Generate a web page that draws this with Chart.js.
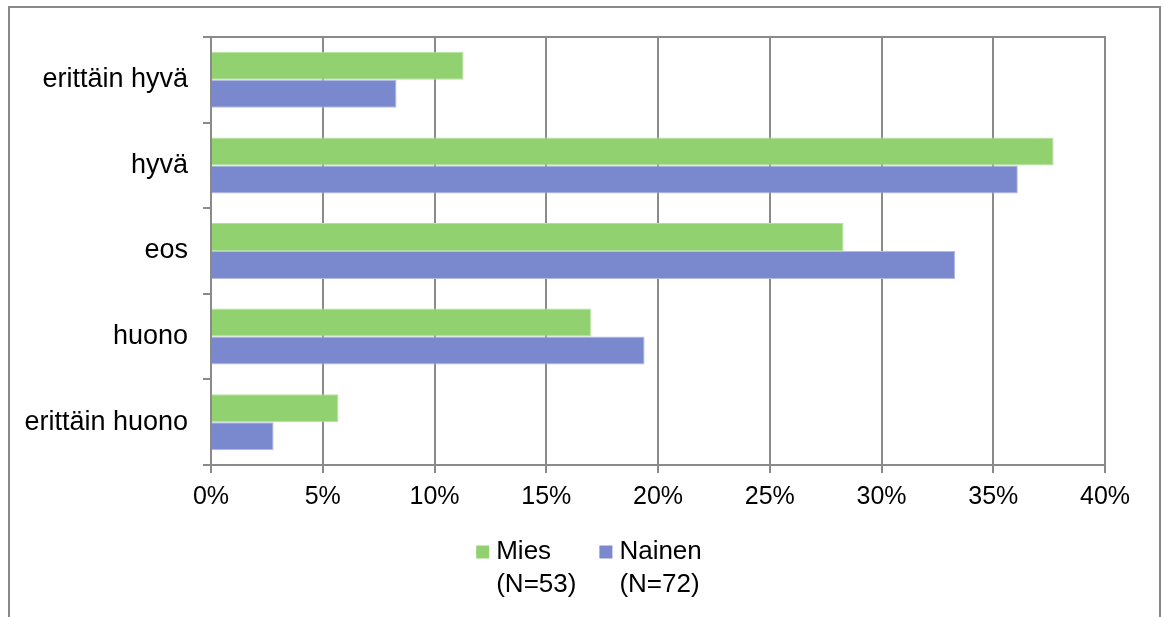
<!DOCTYPE html>
<html>
<head>
<meta charset="utf-8">
<script src="https://cdn.jsdelivr.net/npm/chart.js@4"></script>
<style>
  html, body { margin: 0; padding: 0; background: #fff; overflow: hidden; }
  #frame { position: absolute; left: 8px; top: 6px; width: 1153px; height: 640px; border: 2px solid #888; box-sizing: border-box; }
  #chart { position: absolute; left: 0; top: 0; }
</style>
</head>
<body>
<div id="frame"></div>
<canvas id="chart" width="1165" height="617"></canvas>
<script>
// answers, top to bottom
const categories = ['erittäin hyvä', 'hyvä', 'eos', 'huono', 'erittäin huono'];
// share of respondents, %
const miesValues = [11.3, 37.7, 28.3, 17.0, 5.7];
const nainenValues = [8.3, 36.1, 33.3, 19.4, 2.8];
const seriesLabels = [['Mies', '(N=53)'], ['Nainen', '(N=72)']];
const xTicks = [0, 5, 10, 15, 20, 25, 30, 35, 40];

const GREEN = '#92d16f';
const BLUE = '#7a88cd';
const LINE = '#8a8a8a';
const FAMILY = '"Liberation Sans", Arial, sans-serif';
const X_FONT = { family: FAMILY, size: 25 };
const Y_FONT = { family: FAMILY, size: 27 };
const LEGEND_SIZE = 26;

// box around the plot area (top and right sides come from here)
const plotBorder = {
  id: 'plotBorder',
  afterDatasetsDraw(chart) {
    const { ctx, chartArea: a } = chart;
    ctx.save();
    ctx.strokeStyle = LINE;
    ctx.lineWidth = 2;
    ctx.strokeRect(a.left, a.top, a.right - a.left, a.bottom - a.top);
    ctx.restore();
  }
};

// legend with two-line labels, box next to the first line
const twoLineLegend = {
  id: 'twoLineLegend',
  afterDraw(chart) {
    const ctx = chart.ctx;
    ctx.save();
    ctx.font = `${LEGEND_SIZE}px ${FAMILY}`;
    ctx.textBaseline = 'middle';
    ctx.textAlign = 'left';
    const box = 13, gap = 7, spacing = 23, lineH = 33;
    const items = chart.data.datasets.map(ds => ({
      ds, w: Math.max(...ds.label.map(l => ctx.measureText(l).width))
    }));
    const total = items.reduce((s, it) => s + box + gap + it.w, 0) + spacing * (items.length - 1);
    let x = (chart.width + 13 - total) / 2;
    const y = chart.chartArea.bottom + 87;
    items.forEach(it => {
      ctx.fillStyle = it.ds.backgroundColor;
      ctx.fillRect(x, y - box / 2, box, box);
      ctx.fillStyle = '#000';
      it.ds.label.forEach((l, i) => ctx.fillText(l, x + box + gap, y + i * lineH));
      x += box + gap + it.w + spacing;
    });
    ctx.restore();
  }
};

new Chart(document.getElementById('chart'), {
  type: 'bar',
  data: {
    labels: categories,
    datasets: [
      { label: seriesLabels[0], data: miesValues, backgroundColor: GREEN, borderColor: '#b6e0a0', borderWidth: 1 },
      { label: seriesLabels[1], data: nainenValues, backgroundColor: BLUE, borderColor: '#b3bbe6', borderWidth: 1 }
    ]
  },
  options: {
    indexAxis: 'y',
    responsive: false,
    animation: false,
    layout: { padding: { top: 37, right: 60, bottom: 92, left: 0 } },
    datasets: { bar: { categoryPercentage: 0.654, barPercentage: 1.0 } },
    plugins: {
      legend: { display: false },
      tooltip: { enabled: false }
    },
    scales: {
      x: {
        min: xTicks[0], max: xTicks[xTicks.length - 1],
        afterBuildTicks: s => { s.ticks = xTicks.map(v => ({ value: v })); },
        afterFit: s => { s.height = 60; },
        ticks: { color: '#000', font: X_FONT, padding: 9, callback: v => v + '%' },
        grid: { color: LINE, lineWidth: 2, tickLength: 8 },
        border: { color: LINE, width: 2 }
      },
      y: {
        afterFit: s => { s.width = 211; },
        ticks: { color: '#000', font: Y_FONT, padding: 15 },
        grid: { color: LINE, lineWidth: 2, tickLength: 8, drawOnChartArea: false, offset: true },
        border: { color: LINE, width: 2 }
      }
    }
  },
  plugins: [plotBorder, twoLineLegend]
});
</script>
</body>
</html>
